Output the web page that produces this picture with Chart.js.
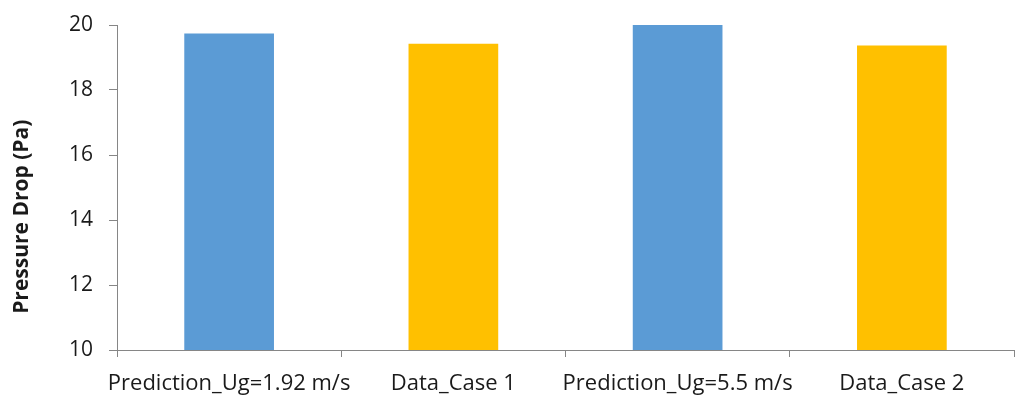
<!DOCTYPE html>
<html>
<head>
<meta charset="utf-8">
<script src="https://cdn.jsdelivr.net/npm/chart.js@4/dist/chart.umd.min.js"></script>
<style>
  html, body { margin: 0; padding: 0; background: #fff; }
  #wrap { width: 1024px; height: 407px; }
</style>
</head>
<body>
<div id="wrap"><canvas id="chart"></canvas></div>
<script>
"use strict";

const CATEGORIES = ["Prediction_Ug=1.92 m/s", "Data_Case 1", "Prediction_Ug=5.5 m/s", "Data_Case 2"];
const PRESSURE_DROP = [19.74, 19.42, 20.0, 19.37];
const BAR_COLORS = ["#5B9BD5", "#FFC000", "#5B9BD5", "#FFC000"];
const Y_TITLE = "Pressure Drop (Pa)";
const Y_MIN = 10;
const Y_MAX = 20;
const Y_STEP = 2;

const AXIS_GREY = "#868686";
const TEXT = "#1a1a1a";
const FONT = "'Open Sans', 'Liberation Sans', sans-serif";

// Excel puts the axis title a little below the middle of the axis, so draw it by hand
const yTitlePlugin = {
  id: "yTitle",
  afterDraw(chart) {
    const c = chart.ctx;
    const area = chart.chartArea;
    c.save();
    c.translate(22, area.top + (area.bottom - area.top) * 0.59);
    c.rotate(-Math.PI / 2);
    c.font = "bold 21px " + FONT;
    c.fillStyle = TEXT;
    c.textAlign = "center";
    c.textBaseline = "middle";
    c.fillText(Y_TITLE, 0, 0);
    c.restore();
  },
};

const ctx = document.getElementById("chart").getContext("2d");
new Chart(ctx, {
  type: "bar",
  data: {
    labels: CATEGORIES,
    datasets: [{
      label: Y_TITLE,
      data: PRESSURE_DROP,
      backgroundColor: BAR_COLORS,
      borderWidth: 0,
      categoryPercentage: 1,
      barPercentage: 0.4,
    }],
  },
  options: {
    responsive: true,
    maintainAspectRatio: false,
    animation: false,
    layout: { padding: { top: 25, right: 10, bottom: 0, left: 0 } },
    plugins: {
      legend: { display: false },
      tooltip: { enabled: false },
    },
    scales: {
      x: {
        grid: { drawOnChartArea: false, color: AXIS_GREY, tickLength: 7, offset: true },
        border: { color: AXIS_GREY, width: 1 },
        ticks: { color: TEXT, font: { family: FONT, size: 22 }, padding: 14, maxRotation: 0, autoSkip: false },
        afterFit: (scale) => { scale.height = 57; },
      },
      y: {
        min: Y_MIN,
        max: Y_MAX,
        grid: { drawOnChartArea: false, color: AXIS_GREY, tickLength: 8 },
        border: { color: AXIS_GREY, width: 1 },
        ticks: { stepSize: Y_STEP, color: TEXT, font: { family: FONT, size: 21, lineHeight: 0.8 }, padding: 16 },
        afterFit: (scale) => { scale.width = 117; },
      },
    },
  },
  plugins: [yTitlePlugin],
});
</script>
</body>
</html>
